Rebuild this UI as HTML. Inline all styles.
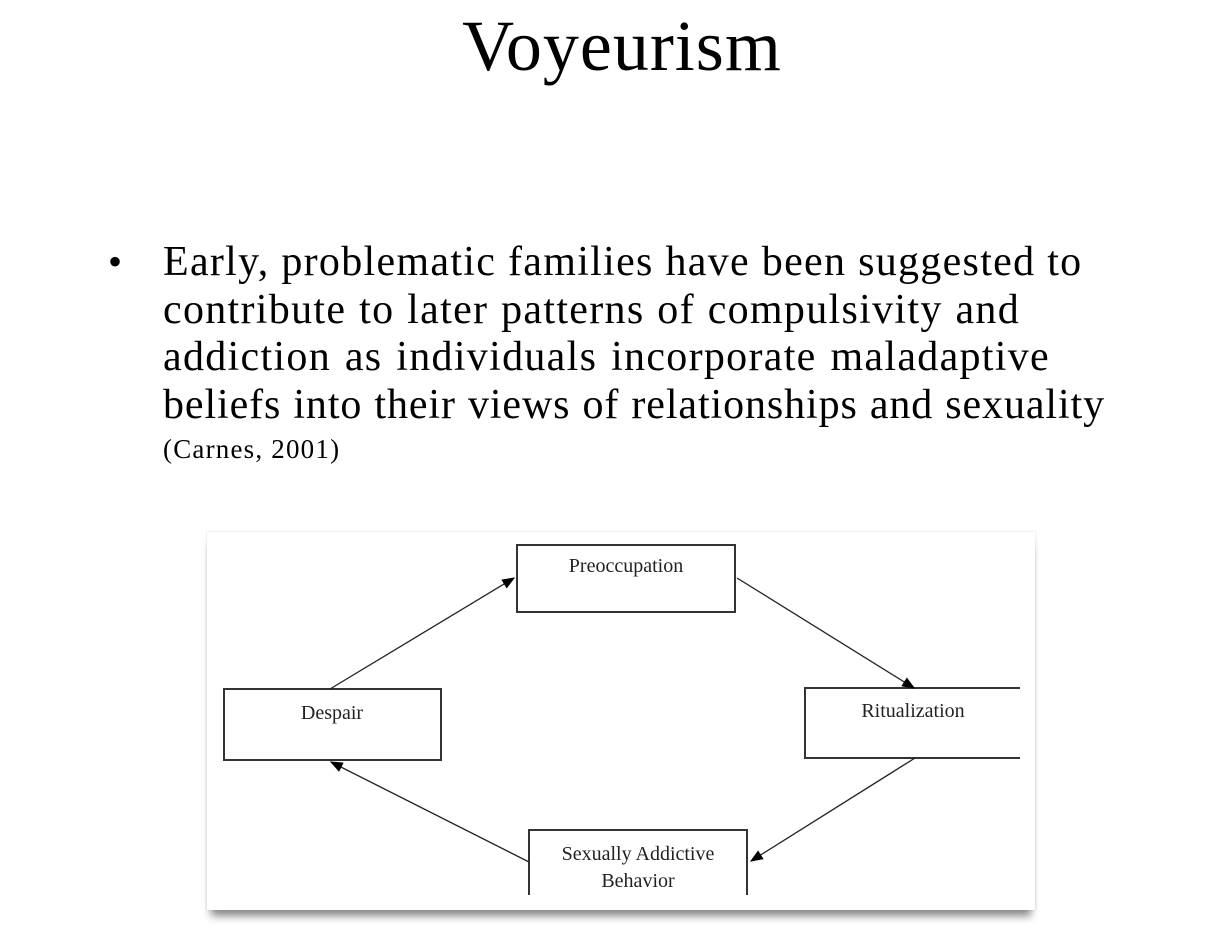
<!DOCTYPE html>
<html><head><style>
body{margin:0;width:1212px;height:938px;background:#fff;position:relative;overflow:hidden;font-family:"Liberation Serif",serif;color:#000}
.t{position:absolute;left:0;width:1244px;text-align:center;top:5px;font-size:72px;letter-spacing:1px}
.l{position:absolute;left:163px;font-size:42px;line-height:48px;letter-spacing:1.3px;text-align:justify;text-align-last:justify;white-space:nowrap}
.dot{position:absolute;left:108px;top:238px;font-size:40px;line-height:47.5px}
.c{position:absolute;left:163px;top:434px;font-size:27px;letter-spacing:1.2px}
.img{position:absolute;left:207px;top:532px;width:828px;height:378px;background:#fff;box-shadow:0 10px 8px -4px #888, 0 0 3px #ddd}
</style></head><body>
<div class="t">Voyeurism</div>
<div class="dot">•</div>
<div class="l" style="top:238px;width:919px">Early, problematic families have been suggested to</div>
<div class="l" style="top:286px;width:857px">contribute to later patterns of compulsivity and</div>
<div class="l" style="top:333px;width:887px">addiction as individuals incorporate maladaptive</div>
<div class="l" style="top:381px;width:942px;letter-spacing:0.9px">beliefs into their views of relationships and sexuality</div>
<div class="c">(Carnes, 2001)</div>
<div class="img"></div>
<svg style="position:absolute;left:0;top:0" width="1212" height="938">
<defs><marker id="a" markerWidth="10" markerHeight="10" refX="9" refY="5" orient="auto"><path d="M0,1 L10,5 L0,9z" fill="#000"/></marker></defs>
<g fill="#fff" stroke="#333" stroke-width="2">
<rect x="517" y="545" width="218" height="67"/>
<rect x="224" y="689" width="217" height="71"/>
<path d="M1020,688 H805 V758 H1020"/>
<path d="M529,895 V830 H747 V895"/>
</g>
<g stroke="#222" stroke-width="1.3" marker-end="url(#a)">
<line x1="330" y1="689" x2="514" y2="578"/>
<line x1="737" y1="578" x2="914" y2="688"/>
<line x1="915" y1="758" x2="751" y2="861"/>
<line x1="529" y1="862" x2="331" y2="762"/>
</g>
<g font-size="20" text-anchor="middle" fill="#222" font-family="Liberation Serif,serif">
<text x="626" y="572">Preoccupation</text>
<text x="332" y="719">Despair</text>
<text x="913" y="717">Ritualization</text>
<text x="638" y="860">Sexually Addictive</text>
<text x="638" y="887">Behavior</text>
</g>
</svg>
</body></html>
